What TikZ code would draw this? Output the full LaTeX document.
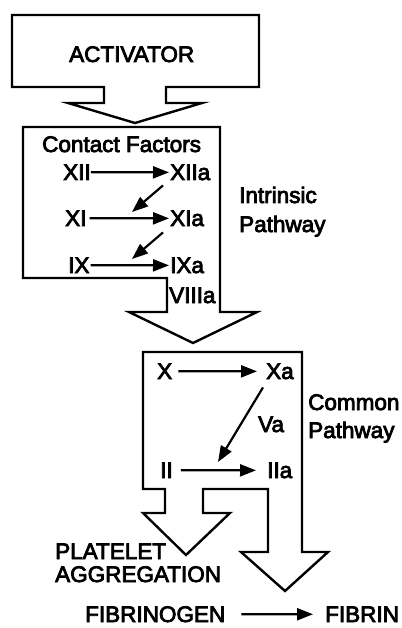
\documentclass[tikz,border=0pt]{standalone}
\usepackage{fontspec}
\setmainfont[FakeBold=3.5]{Liberation Sans}
\usetikzlibrary{arrows.meta}
\begin{document}
\begin{tikzpicture}[x=1pt,y=-1pt,
  blk/.style={draw=black,line width=2.4pt,line join=miter,fill=white},
  lbl/.style={inner sep=0pt,anchor=base west,font=\fontsize{22.5}{26}\selectfont},
  flow/.style={line width=2.2pt,-{Triangle[length=16pt,width=12pt]}}]
\useasboundingbox (0,0) rectangle (401,628);
% block arrows
\draw[blk] (12,15)--(259,15)--(259,87)--(166,87)--(166,103)--(202,103)--(135,123)--(68,103)--(104,103)--(104,87)--(12,87)--cycle;
\draw[blk] (23,127)--(220,127)--(220,312)--(257,312)--(193,343)--(129,312)--(167,312)--(167,278)--(23,278)--cycle;
\draw[blk] (143,352)--(302,352)--(302,552)--(328,552)--(285,591)--(241,552)--(268,552)--(268,489)--(203,489)--(203,513)--(230,513)--(186,555)--(143,513)--(165,513)--(165,489)--(143,489)--cycle;
% labels
\node[lbl] (act) at (69,62) {ACTIVATOR};
\node[lbl] (cf) at (42,152) {Contact Factors};
\node[lbl] (xii) at (63,180) {XII};
\node[lbl] (xiia) at (170,180) {XIIa};
\node[lbl] (xi) at (65,226) {XI};
\node[lbl] (xia) at (170,226) {XIa};
\node[lbl] (ix) at (68,273) {IX};
\node[lbl] (ixa) at (170,273) {IXa};
\node[lbl] (viiia) at (169,303) {VIIIa};
\node[lbl] (intr) at (239,203) {Intrinsic};
\node[lbl] (ipath) at (239,232) {Pathway};
\node[lbl] (x) at (157,379) {X};
\node[lbl] (xa) at (266,379) {Xa};
\node[lbl] (va) at (258,432) {Va};
\node[lbl] (ii) at (160,478) {II};
\node[lbl] (iia) at (267,478) {IIa};
\node[lbl] (comm) at (308,410) {Common};
\node[lbl] (cpath) at (308,438) {Pathway};
\node[lbl] (plat) at (55,559) {PLATELET};
\node[lbl] (aggr) at (55,582) {AGGREGATION};
\node[lbl] (fgen) at (85,622) {FIBRINOGEN};
\node[lbl] (fib) at (325,622) {FIBRIN};
% connectors
\draw[flow,shorten >=1pt] (xii.east) -- (xiia.west);
\draw[flow,shorten <=3pt,shorten >=1pt] (xi.east) -- (xia.west);
\draw[flow,shorten <=1pt,shorten >=1pt] (ix.east) -- (ixa.west);
\coordinate (d1) at (132,212);
\coordinate (d2) at (132,259);
\coordinate (d3) at (218,462);
\draw[flow] ([shift={(-7,5)}]xiia.south west) -- (d1);
\draw[flow] ([shift={(-7,6)}]xia.south west) -- (d2);
\draw[flow,shorten <=6pt,shorten >=9pt] (x.east) -- (xa.west);
\draw[flow] ([shift={(-3,8)}]xa.south west) -- (d3);
\draw[flow,shorten <=8pt,shorten >=11pt] (ii.east) -- (iia.west);
\draw[flow,shorten <=16pt,shorten >=12pt] (fgen.east) -- (fib.west);
\end{tikzpicture}
\end{document}
